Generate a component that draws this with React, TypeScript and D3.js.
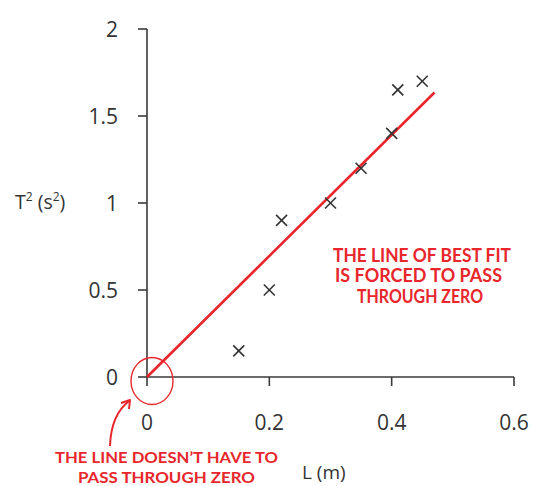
import React from "react";
import * as d3 from "d3";

const lengths = [0.15, 0.2, 0.22, 0.3, 0.35, 0.4, 0.41, 0.45];
const periodsSq = [0.15, 0.5, 0.9, 1.0, 1.2, 1.4, 1.65, 1.7];
const fitL = [0, 0.47];
const fitT2 = [0, 1.635];
const xTicks = [0, 0.2, 0.4, 0.6];
const yTicks = [0, 0.5, 1, 1.5, 2];
const noteRight = ["THE LINE OF BEST FIT", "IS FORCED TO PASS", "THROUGH ZERO"];
const noteBottom = ["THE LINE DOESN\u2019T HAVE TO", "PASS THROUGH ZERO"];

const W = 533;
const H = 486;
const RED = "#e8262c";
const AX = "#3a3a3a";
const FONT = "'Open Sans', 'Noto Sans', sans-serif";
const HAND = "Lato, 'Open Sans', sans-serif";

const rightLayout = [
  { cx: 422, y: 262, w: 178 },
  { cx: 418.5, y: 282, w: 167 },
  { cx: 420, y: 303, w: 126 },
];
const bottomLayout = [
  { cx: 166.5, y: 463, w: 223 },
  { cx: 166.5, y: 482.5, w: 177 },
];

export default function App() {
  const x = d3.scaleLinear().domain([0, 0.6]).range([147, 514]);
  const y = d3.scaleLinear().domain([0, 2]).range([377, 29]);
  const line = d3
    .line<number>()
    .x((_, i) => x(fitL[i]))
    .y((d) => y(d));
  const arrow = d3.path();
  arrow.moveTo(110, 446);
  arrow.quadraticCurveTo(111, 415, 129, 401);

  return (
    <svg
      width={W}
      height={H}
      style={{ position: "absolute", left: 0, top: 0, background: "#fff" }}
    >
      <line x1={x(0)} x2={x(0.6)} y1={y(0)} y2={y(0)} stroke={AX} strokeWidth={1.6} />
      <line x1={x(0)} x2={x(0)} y1={y(2)} y2={y(0)} stroke={AX} strokeWidth={1.6} />
      {xTicks.map((t) => (
        <g key={"xt" + t}>
          <line x1={x(t)} x2={x(t)} y1={y(0)} y2={y(0) + 9} stroke={AX} strokeWidth={1.6} />
          <text x={x(t)} y={430} textAnchor="middle" fontFamily={FONT} fontSize={21} fill="#333">
            {String(t)}
          </text>
        </g>
      ))}
      {yTicks.map((t) => (
        <g key={"yt" + t}>
          <line x1={x(0) - 9} x2={x(0)} y1={y(t)} y2={y(t)} stroke={AX} strokeWidth={1.6} />
          <text x={118} y={y(t)} dy="0.36em" textAnchor="end" fontFamily={FONT} fontSize={21} fill="#333">
            {String(t)}
          </text>
        </g>
      ))}
      <text x={15} y={209} fontFamily={FONT} fontSize={19.5} fill="#333">
        T<tspan dy={-8} fontSize={12}>2</tspan>
        <tspan dy={8}> (s</tspan>
        <tspan dy={-8} fontSize={12}>2</tspan>
        <tspan dy={8}>)</tspan>
      </text>
      <text x={302} y={479} fontFamily={FONT} fontSize={19} fill="#333">
        L (m)
      </text>
      <path d={line(fitT2) || ""} fill="none" stroke={RED} strokeWidth={2.6} />
      {lengths.map((l, i) => {
        const cx = x(l);
        const cy = y(periodsSq[i]);
        const s = 5.5;
        return (
          <g key={"p" + i} stroke="#333" strokeWidth={1.6}>
            <line x1={cx - s} x2={cx + s} y1={cy - s} y2={cy + s} />
            <line x1={cx - s} x2={cx + s} y1={cy + s} y2={cy - s} />
          </g>
        );
      })}
      <ellipse cx={152} cy={381} rx={21} ry={23.5} fill="none" stroke={RED} strokeWidth={1.4} />
      <path d={arrow.toString()} fill="none" stroke={RED} strokeWidth={2} />
      <path d="M121,403 L130,400 L129,409" fill="none" stroke={RED} strokeWidth={2} strokeLinejoin="round" />
      <text textAnchor="middle" fontFamily={HAND} fontWeight={700} fontSize={18.5} fill={RED}>
        {noteRight.map((s, i) => (
          <tspan
            key={"nr" + i}
            x={rightLayout[i].cx}
            y={rightLayout[i].y}
            textLength={rightLayout[i].w}
            lengthAdjust="spacingAndGlyphs"
          >
            {s}
          </tspan>
        ))}
      </text>
      <text textAnchor="middle" fontFamily={HAND} fontWeight={700} fontSize={15.5} fill={RED}>
        {noteBottom.map((s, i) => (
          <tspan
            key={"nb" + i}
            x={bottomLayout[i].cx}
            y={bottomLayout[i].y}
            textLength={bottomLayout[i].w}
            lengthAdjust="spacingAndGlyphs"
          >
            {s}
          </tspan>
        ))}
      </text>
    </svg>
  );
}
